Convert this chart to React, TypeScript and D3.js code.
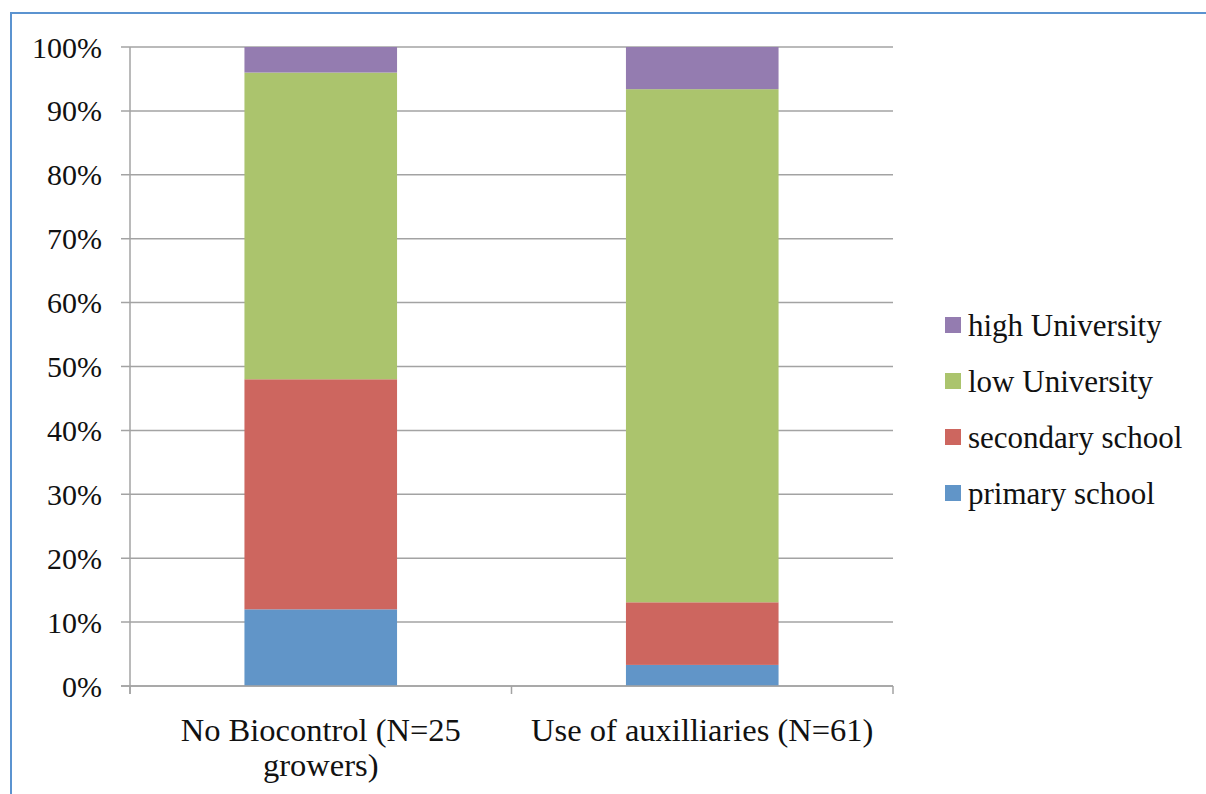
import React, { useEffect, useRef } from 'react';
import * as d3 from 'd3';

const categories = ['No Biocontrol (N=25 growers)', 'Use of auxilliaries (N=61)'];
const categoryLines = [['No Biocontrol (N=25', 'growers)'], ['Use of auxilliaries (N=61)']];
const seriesNames = ['primary school', 'secondary school', 'low University', 'high University'];
const primarySchool = [12, 3.3];
const secondarySchool = [36, 9.8];
const lowUniversity = [48, 80.3];
const highUniversity = [4, 6.6];
const yTicks = [0, 10, 20, 30, 40, 50, 60, 70, 80, 90, 100];
const colors = ['#6195c8', '#cd665f', '#abc46d', '#947cb0'];

const App: React.FC = () => {
  const svgRef = useRef<SVGSVGElement>(null);

  useEffect(() => {
    if (!svgRef.current) return;
    const svg = d3.select(svgRef.current);
    svg.selectAll('*').remove();

    const font = '"Liberation Serif", serif';
    const left = 130, right = 893, top = 47, bottom = 686;

    // outer frame (only top and left visible)
    svg.append('path')
      .attr('d', 'M11,794 L11,13 L1206,13')
      .attr('fill', 'none')
      .attr('stroke', '#5b93d0')
      .attr('stroke-width', 2);

    const x = d3.scaleBand<string>().domain(categories).range([left, right]).paddingInner(0.6).paddingOuter(0.3);
    const y = d3.scaleLinear().domain([0, 100]).range([bottom, top]);

    // gridlines
    svg.append('g').selectAll('line').data(yTicks).join('line')
      .attr('x1', left - 9).attr('x2', right)
      .attr('y1', (d) => y(d)).attr('y2', (d) => y(d))
      .attr('stroke', '#a3a3a3').attr('stroke-width', 1.5);

    // y labels
    svg.append('g').selectAll('text').data(yTicks).join('text')
      .attr('x', 102).attr('y', (d) => y(d))
      .attr('dy', '0.35em')
      .attr('text-anchor', 'end')
      .attr('font-family', font).attr('font-size', 30)
      .attr('fill', '#111')
      .text((d) => `${d}%`);

    const table = categories.map((c, i) => ({
      cat: c,
      'primary school': primarySchool[i],
      'secondary school': secondarySchool[i],
      'low University': lowUniversity[i],
      'high University': highUniversity[i],
    }));
    const stack = d3.stack<any>().keys(seriesNames)(table);

    svg.append('g').selectAll('g').data(stack).join('g')
      .attr('fill', (_, i) => colors[i])
      .selectAll('rect').data((d) => d).join('rect')
      .attr('x', (d) => x(d.data.cat)!)
      .attr('width', x.bandwidth())
      .attr('y', (d) => y(d[1]))
      .attr('height', (d) => y(d[0]) - y(d[1]));

    // axes
    svg.append('line').attr('x1', left).attr('x2', left).attr('y1', top).attr('y2', bottom + 8)
      .attr('stroke', '#a3a3a3').attr('stroke-width', 1.5);
    svg.append('line').attr('x1', left - 9).attr('x2', right).attr('y1', bottom).attr('y2', bottom)
      .attr('stroke', '#a3a3a3').attr('stroke-width', 1.5);
    const step = (right - left) / categories.length;
    svg.append('g').selectAll('line').data(d3.range(categories.length + 1)).join('line')
      .attr('x1', (d) => left + d * step).attr('x2', (d) => left + d * step)
      .attr('y1', bottom).attr('y2', bottom + 8)
      .attr('stroke', '#a3a3a3').attr('stroke-width', 1.5);

    // category labels
    categories.forEach((c, i) => {
      const cx = x(c)! + x.bandwidth() / 2;
      const t = svg.append('text')
        .attr('text-anchor', 'middle')
        .attr('font-family', font).attr('font-size', 32.5).attr('fill', '#111');
      categoryLines[i].forEach((line, j) => {
        t.append('tspan').attr('x', cx).attr('y', 741 + j * 35).text(line);
      });
    });

    // legend
    const legendOrder = [...seriesNames].reverse();
    const lg = svg.append('g');
    legendOrder.forEach((name, i) => {
      const cy = 325 + i * 56;
      lg.append('rect').attr('x', 945).attr('y', cy - 8).attr('width', 16).attr('height', 16)
        .attr('fill', colors[seriesNames.indexOf(name)]);
      lg.append('text').attr('x', 968).attr('y', cy).attr('dy', '0.35em')
        .attr('font-family', font).attr('font-size', 31).attr('fill', '#111')
        .text(name);
    });
  }, []);

  return (
    <svg ref={svgRef} width={1206} height={794}
      style={{ position: 'absolute', left: 0, top: 0, background: '#fff' }} />
  );
};

export default App;
